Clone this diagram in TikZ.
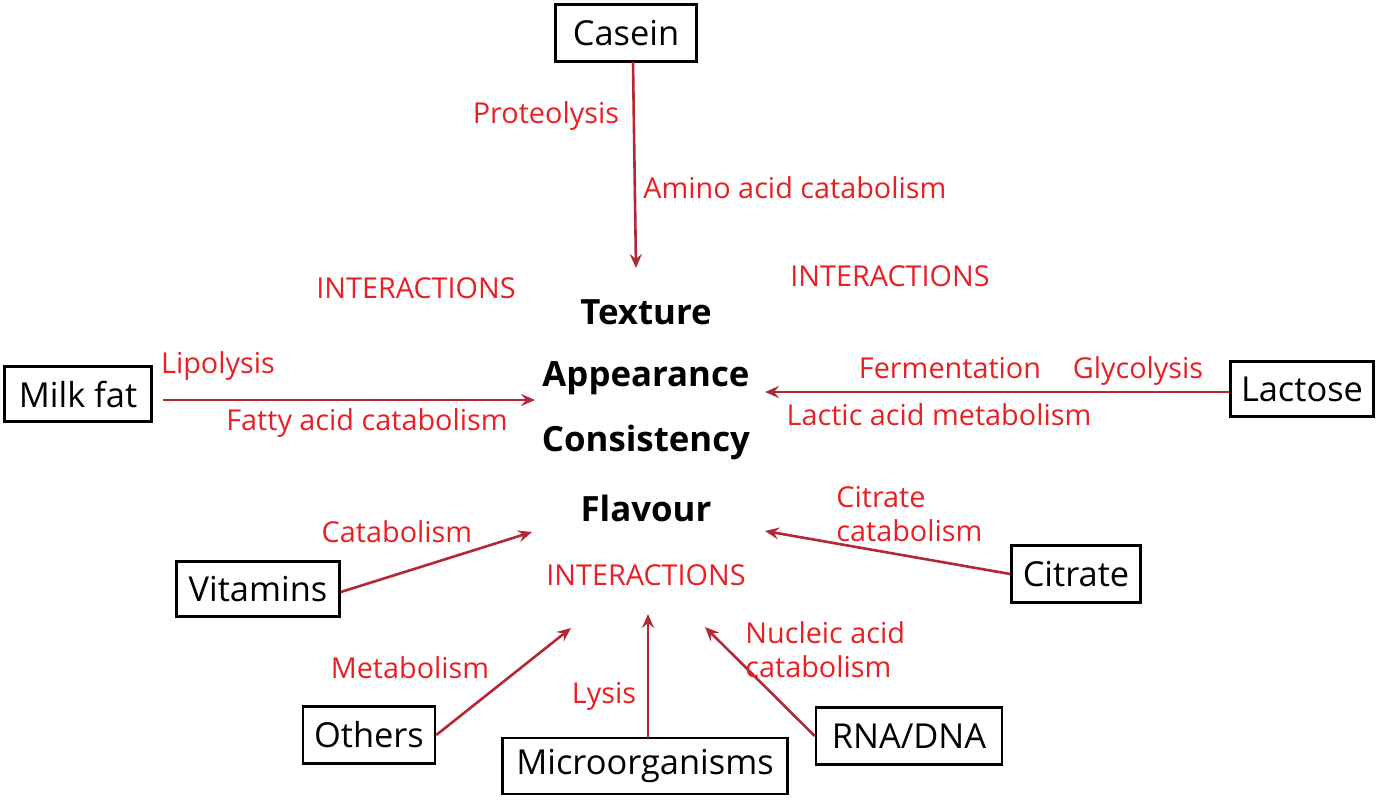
\documentclass[tikz,border=0pt]{standalone}
\usepackage{fontspec}
\setmainfont{Open Sans}
\usetikzlibrary{arrows.meta}
\definecolor{arr}{RGB}{178,40,52}
\definecolor{lab}{RGB}{232,32,36}
\tikzset{
  src/.style={draw=black, line width=1.3pt, inner sep=0pt, font=\fontsize{17.2}{20}\selectfont, text=black},
  lbl/.style={text=lab, font=\fontsize{14.4}{17}\selectfont, inner sep=0pt},
  prop/.style={text=black, font=\bfseries\fontsize{17.4}{20}\selectfont, inner sep=0pt},
  conn/.style={draw=arr, line width=1.3pt, -{Stealth[length=7pt,width=6pt,inset=2.5pt]}}
}
\begin{document}
\begin{tikzpicture}[x=0.5pt,y=-0.5pt]
\useasboundingbox (0,0) rectangle (1382,800);
\fill[white] (0,0) rectangle (1382,800);
% sources
\node[src, minimum width=70.5pt, minimum height=28.5pt] (casein) at (626,33) {Casein};
\node[src, minimum width=73.5pt, minimum height=27.5pt] (milk) at (78,394) {Milk fat};
\node[src, minimum width=71.5pt, minimum height=27.5pt] (lactose) at (1302,389) {Lactose};
\node[src, minimum width=64.5pt, minimum height=28.5pt] (citrate) at (1076,574) {Citrate};
\node[src, minimum width=81.5pt, minimum height=27.5pt] (vit) at (258,589) {Vitamins};
\node[src, minimum width=66pt, minimum height=28.5pt] (others) at (369,735) {Others};
\node[src, minimum width=142.5pt, minimum height=28pt] (micro) at (645,766) {Microorganisms};
\node[src, minimum width=93pt, minimum height=28.5pt] (rna) at (909,736) {RNA/DNA};
% properties
\node[prop] (texture) at (646,312) {Texture};
\node[prop] (appear) at (646,378) {Appearance};
\node[prop] (consist) at (646,442) {Consistency};
\node[prop] (flavour) at (646,508) {Flavour};
% interactions
\node[lbl] (int1) at (416,288) {INTERACTIONS};
\node[lbl] (int2) at (890,276) {INTERACTIONS};
\node[lbl] (int3) at (646,575) {INTERACTIONS};
% arrow end points
\coordinate (eCasein) at (636,268);
\coordinate (eMilk) at (535,400);
\coordinate (eLact) at (765,392);
\coordinate (eCit) at (765,531);
\coordinate (eVit) at (532,532);
\coordinate (eOth) at (571,628);
\coordinate (eMic) at (648,614);
\coordinate (eRna) at (705,627);
\coordinate (sCasein) at (633,62);
\coordinate (sMilk) at (163,400);
\coordinate (sMic) at (648,738);
% connectors
\draw[conn] (sCasein) -- (eCasein);
\draw[conn] (sMilk) -- (eMilk);
\draw[conn] (lactose.west |- 0,392) -- (eLact);
\draw[conn] (citrate.west) -- (eCit);
\draw[conn] (vit.east |- 0,592) -- (eVit);
\draw[conn] (others.east) -- (eOth);
\draw[conn] (sMic) -- (eMic);
\draw[conn] (rna.west) -- (eRna);
% labels
\node[lbl] (l1) at (546,116) {Proteolysis};
\node[lbl, anchor=west] (l2) at (643,188) {Amino acid catabolism};
\node[lbl] (l3) at (218,366) {Lipolysis};
\node[lbl] (l4) at (367,423) {Fatty acid catabolism};
\node[lbl] (l5) at (950,368) {Fermentation};
\node[lbl] (l6) at (1138,371) {Glycolysis};
\node[lbl] (l7) at (939,415) {Lactic acid metabolism};
\node[lbl, anchor=west, align=left] (l8) at (836,514) {Citrate\\catabolism};
\node[lbl] (l9) at (397,532) {Catabolism};
\node[lbl] (l10) at (410,668) {Metabolism};
\node[lbl] (l11) at (604,696) {Lysis};
\node[lbl, anchor=west, align=left] (l12) at (745,650) {Nucleic acid\\catabolism};
\end{tikzpicture}
\end{document}
